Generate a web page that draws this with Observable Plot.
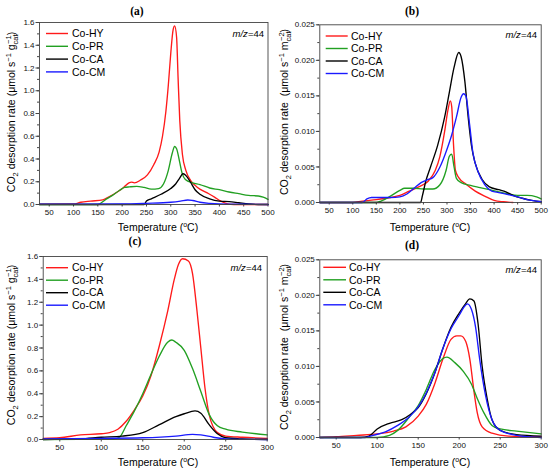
<!DOCTYPE html>
<html><head><meta charset="utf-8">
<script src="https://cdn.jsdelivr.net/npm/d3@7"></script>
<script src="https://cdn.jsdelivr.net/npm/@observablehq/plot@0.6"></script>
<style>
body{margin:0;background:#fff}
#fig{position:relative;width:550px;height:471px;overflow:hidden;background:#fff}
#fig svg.pnl{position:absolute}
</style>
</head><body><div id="fig"></div>
<script>
// ---------- data ----------
const seriesNames = ["Co-HY","Co-PR","Co-CA","Co-CM"];
const seriesColors = ["#ff1a1a","#22a022","#000000","#1a1aff"];
const panelTitles = ["(a)","(b)","(c)","(d)"];
const xTicksAB = [50,100,150,200,250,300,350,400,450,500];
const xTicksCD = [50,100,150,200,250,300];
const yTicksAC = [0,0.2,0.4,0.6,0.8,1.0,1.2,1.4,1.6];
const yTicksBD = [0,0.005,0.010,0.015,0.020,0.025];
const mzLabel = "=44";

// panel (a): per gram, 30-500 °C
const a_HY = [[30,0.003],[100,0.004],[115,0.02],[135,0.03],[160,0.04],[170,0.06],[190,0.11],[203,0.15],[214,0.19],[219,0.197],[225,0.19],[238,0.215],[252,0.26],[265,0.35],[276,0.46],[283,0.6],[290,0.82],[295,1.05],[300,1.33],[305,1.54],[308,1.57],[312,1.47],[315,1.12],[318.5,0.74],[324,0.44],[331,0.3],[341,0.21],[355,0.15],[376,0.1],[390,0.065],[403,0.03],[417,0.006],[430,0],[500,0]];
const a_PR = [[30,0],[150,0],[165,0.04],[180,0.08],[195,0.125],[205,0.15],[215,0.155],[230,0.16],[245,0.15],[260,0.135],[275,0.14],[285,0.18],[295,0.3],[303,0.45],[308,0.51],[312,0.49],[318,0.38],[323,0.28],[330,0.22],[345,0.19],[360,0.175],[380,0.145],[400,0.13],[420,0.11],[440,0.095],[460,0.08],[480,0.075],[490,0.065],[500,0.045]];
const a_CA = [[30,0],[245,0],[250,0.03],[260,0.05],[280,0.09],[300,0.14],[310,0.18],[318,0.23],[325,0.27],[330,0.26],[340,0.2],[350,0.13],[360,0.09],[380,0.05],[400,0.03],[420,0.025],[440,0.015],[460,0.005],[480,0],[500,0]];
const a_CM = [[30,0.003],[200,0.004],[250,0.01],[300,0.02],[320,0.03],[335,0.04],[345,0.035],[360,0.02],[380,0.01],[400,0.005],[450,0.002],[500,0]];

// panel (b): per m², 30-500 °C
const b_HY = [[30,0],[100,0],[120,0.0002],[150,0.0004],[180,0.0007],[200,0.001],[220,0.0016],[240,0.0022],[260,0.003],[275,0.0045],[285,0.0065],[295,0.010],[302,0.013],[307,0.0143],[310,0.0135],[314,0.008],[318,0.0045],[325,0.0035],[340,0.0026],[360,0.0016],[380,0.0009],[400,0.0003],[420,0.0001],[440,0]];
const b_PR = [[30,0],[150,0],[160,0.0002],[180,0.0009],[200,0.0017],[210,0.002],[230,0.002],[250,0.0019],[270,0.0019],[285,0.0025],[298,0.0045],[305,0.0065],[310,0.0068],[315,0.005],[320,0.0034],[330,0.0028],[350,0.0024],[370,0.0021],[390,0.0018],[410,0.0015],[430,0.0012],[450,0.001],[470,0.001],[490,0.0008],[500,0.0005]];
const b_CA = [[30,0],[244,0],[248,0.001],[255,0.003],[265,0.005],[280,0.008],[295,0.012],[305,0.0155],[315,0.019],[325,0.0211],[330,0.0205],[338,0.017],[345,0.012],[352,0.008],[360,0.0055],[375,0.0032],[390,0.0022],[410,0.0018],[425,0.0015],[440,0.001],[460,0.0006],[480,0.0003],[500,0.0001]];
const b_CM = [[30,0],[120,0],[130,0.0005],[140,0.0007],[180,0.0007],[200,0.0008],[215,0.0012],[230,0.002],[245,0.0028],[258,0.0032],[270,0.0035],[285,0.005],[300,0.0075],[310,0.0095],[320,0.012],[330,0.0148],[335,0.0153],[340,0.015],[348,0.011],[355,0.007],[365,0.0045],[380,0.0025],[395,0.0016],[410,0.0014],[430,0.0011],[450,0.0008],[470,0.0004],[490,0.0002],[500,0.0001]];

// panel (c): per gram, 30-300 °C
const c_HY = [[30,0.01],[50,0.015],[75,0.04],[100,0.05],[110,0.06],[120,0.09],[130,0.16],[140,0.26],[150,0.38],[160,0.56],[170,0.82],[180,1.12],[188,1.4],[193,1.53],[198,1.58],[205,1.56],[210,1.45],[215,1.15],[220,0.8],[225,0.45],[230,0.22],[240,0.06],[250,0.03],[270,0.02],[300,0.01]];
const c_PR = [[30,0],[115,0.003],[122,0.02],[130,0.12],[140,0.25],[150,0.4],[160,0.57],[170,0.73],[180,0.85],[185,0.87],[190,0.85],[200,0.78],[210,0.62],[220,0.42],[230,0.22],[240,0.12],[250,0.09],[270,0.065],[300,0.04]];
const c_CA = [[30,0],[75,0.005],[100,0.02],[125,0.03],[150,0.06],[170,0.13],[190,0.2],[200,0.225],[213,0.25],[220,0.23],[230,0.13],[240,0.05],[250,0.015],[270,0.005],[300,0]];
const c_CM = [[30,0.005],[100,0.01],[150,0.015],[190,0.03],[210,0.045],[220,0.04],[235,0.02],[250,0.005],[300,0]];

// panel (d): per m², 30-300 °C
const d_HY = [[30,0],[50,0.0001],[75,0.0003],[100,0.0005],[120,0.0009],[135,0.0015],[150,0.003],[160,0.0047],[170,0.0075],[180,0.011],[190,0.0138],[197,0.0143],[202,0.0143],[208,0.0135],[213,0.011],[218,0.0065],[222,0.0035],[228,0.0015],[240,0.0006],[260,0.0002],[300,0.0001]];
const d_PR = [[30,0],[100,0],[115,0.0003],[125,0.001],[140,0.003],[150,0.0045],[160,0.0068],[170,0.0095],[180,0.0111],[185,0.0113],[195,0.0105],[205,0.0093],[215,0.0075],[222,0.0055],[230,0.0035],[240,0.0017],[250,0.0012],[270,0.0009],[300,0.0005]];
const d_CA = [[30,0],[80,0],[90,0.0002],[100,0.0012],[115,0.002],[130,0.0025],[140,0.0032],[150,0.0042],[160,0.0062],[170,0.009],[180,0.0125],[190,0.0155],[200,0.0175],[207,0.0187],[213,0.0195],[218,0.0192],[223,0.016],[228,0.01],[234,0.0055],[240,0.0025],[250,0.001],[270,0.0004],[300,0.0002]];
const d_CM = [[30,0],[85,0],[95,0.0003],[110,0.0008],[125,0.0017],[140,0.003],[150,0.0043],[160,0.0063],[170,0.009],[180,0.0125],[190,0.0153],[200,0.0172],[205,0.0182],[210,0.0188],[215,0.018],[220,0.0155],[225,0.011],[232,0.006],[240,0.0025],[250,0.001],[270,0.0003],[300,0]];

// ---------- layout ----------
const FONT = "'Liberation Sans', Arial, sans-serif";
const panels = [
  {left:0,   top:0,   w:275, h:235, mL:39,   mR:7.5, mT:22, mB:31, xDomain:[30,500], xTicks:xTicksAB, yDomain:[0,1.6],   yTicks:yTicksAC, yMinorStep:0.1,    fmt:".1f", series:[a_HY,a_PR,a_CA,a_CM], unit:"g", unitExp:"−1", gap:"",  title:[137,15],  ylab:[15,112], xlab:[158,231], leg:[46,68,72,33.5,12.8], mz:[264,37]},
  {left:275, top:0,   w:275, h:235, mL:44.3, mR:9.3, mT:24.3, mB:33, xDomain:[30,500], xTicks:xTicksAB, yDomain:[0,0.025], yTicks:yTicksBD, yMinorStep:0.0025, fmt:".3f", series:[b_HY,b_PR,b_CA,b_CM], unit:"m", unitExp:"−2", gap:" ", title:[137,15],  ylab:[13,112], xlab:[155,231], leg:[50.7,72.7,76,36,12.5], mz:[262,38]},
  {left:0,   top:235, w:275, h:236, mL:42.7, mR:8.3, mT:21, mB:32, xDomain:[30,300], xTicks:xTicksCD, yDomain:[0,1.6],   yTicks:yTicksAC, yMinorStep:0.1,    fmt:".1f", series:[c_HY,c_PR,c_CA,c_CM], unit:"g", unitExp:"−1", gap:"",  title:[135,9.5], ylab:[15,110], xlab:[158,231], leg:[46,68,72,32.7,12.5], mz:[262,36]},
  {left:275, top:235, w:275, h:236, mL:44.3, mR:9.3, mT:24.3, mB:34, xDomain:[30,300], xTicks:xTicksCD, yDomain:[0,0.025], yTicks:yTicksBD, yMinorStep:0.0025, fmt:".3f", series:[d_HY,d_PR,d_CA,d_CM], unit:"m", unitExp:"−2", gap:" ", title:[137,13.5],ylab:[13,112], xlab:[155,231], leg:[48.3,71,74,32.3,12.5], mz:[262,37.5]}
];

const fig = document.getElementById("fig");

function richText(g, parts, attrs){
  const t = g.append("text");
  Object.entries(attrs).forEach(([k,v])=>t.attr(k,v));
  let cur = 0;
  parts.forEach(p=>{
    const target = p.off || 0;
    const ts = t.append("tspan").text(p.t).attr("dy", target - cur);
    if (p.size) ts.attr("font-size", p.size);
    if (p.dx) ts.attr("dx", p.dx);
    if (p.style) ts.attr("font-style", p.style);
    cur = target;
  });
  if (cur !== 0) t.append("tspan").text("\u200b").attr("dy", -cur);
  return t;
}

panels.forEach((P, pi)=>{
  const rows = P.series.flatMap((arr,i)=>arr.map(([T,v])=>({T, v, s:seriesNames[i]})));
  const [y0,y1] = P.yDomain;
  const minor = d3.range(y0, y1 + P.yMinorStep/2, P.yMinorStep);
  const svg = Plot.plot({
    width:P.w, height:P.h,
    marginLeft:P.mL, marginRight:P.mR, marginTop:P.mT, marginBottom:P.mB,
    style:{fontFamily:FONT, fontSize:"8px", color:"#111", background:"#fff", overflow:"visible"},
    x:{domain:P.xDomain},
    y:{domain:P.yDomain},
    color:{domain:seriesNames, range:seriesColors},
    marks:[
      Plot.axisX({ticks:P.xTicks, tickSize:2.5, tickPadding:2, label:null, fontSize:8, stroke:"#444"}),
      Plot.axisY({ticks:minor, tickSize:2, tickFormat:()=>"", label:null, stroke:"#444"}),
      Plot.axisY({ticks:P.yTicks, tickSize:3.5, tickPadding:1.5, tickFormat:d3.format(P.fmt), label:null, fontSize:8, stroke:"#444"}),
      Plot.line(rows, {x:"T", y:"v", z:"s", stroke:"s", strokeWidth:1.35, curve:"monotone-x"}),
      Plot.frame({stroke:"#444", strokeWidth:0.9})
    ]
  });
  svg.classList.add("pnl");
  svg.style.left = P.left + "px";
  svg.style.top = P.top + "px";
  fig.appendChild(svg);
  const g = d3.select(svg).append("g").attr("text-anchor","start");

  // panel title
  g.append("text").attr("x",P.title[0]).attr("y",P.title[1]).attr("text-anchor","middle")
    .attr("font-family","'Liberation Serif','Times New Roman',serif").attr("font-weight","bold").attr("font-size",11.5)
    .attr("fill","#000").text(panelTitles[pi]);

  // y axis label (rotated)
  richText(g, [
    {t:"CO"},{t:"2", off:2.5, size:7.5},
    {t:" desorption rate "+P.gap+"(μmol s"},{t:"−1", off:-4, size:7.5},
    {t:" "+P.unit},{t:"cat", off:2.5, size:7.5},{t:P.unitExp, off:-4.5, size:7.5, dx:-9.5},
    {t:")"}
  ], {"text-anchor":"middle","font-family":FONT,"font-size":10.5,"fill":"#000",
      transform:`translate(${P.ylab[0]},${P.ylab[1]}) rotate(-90)`});

  // x axis label
  richText(g, [{t:"Temperature ("},{t:"o", off:-4, size:7},{t:"C)"}],
    {"text-anchor":"middle","font-family":FONT,"font-size":10.5,"fill":"#000", x:P.xlab[0], y:P.xlab[1]});

  // m/z label
  const mz = g.append("text").attr("x",P.mz[0]).attr("y",P.mz[1]).attr("text-anchor","end")
    .attr("font-family",FONT).attr("font-size",9.5).attr("fill","#000");
  mz.append("tspan").attr("font-style","italic").text("m/z");
  mz.append("tspan").text(mzLabel);

  // legend
  const [lx0,lx1,tx,ly0,ldy] = P.leg;
  seriesNames.forEach((name,i)=>{
    const yy = ly0 + i*ldy;
    g.append("line").attr("x1",lx0).attr("x2",lx1).attr("y1",yy).attr("y2",yy)
      .attr("stroke",seriesColors[i]).attr("stroke-width",1.4);
    g.append("text").attr("x",tx).attr("y",yy).attr("dy","0.36em").attr("text-anchor","start")
      .attr("font-family",FONT).attr("font-size",10.5).attr("fill","#000").text(name);
  });
});
</script>
</body></html>
